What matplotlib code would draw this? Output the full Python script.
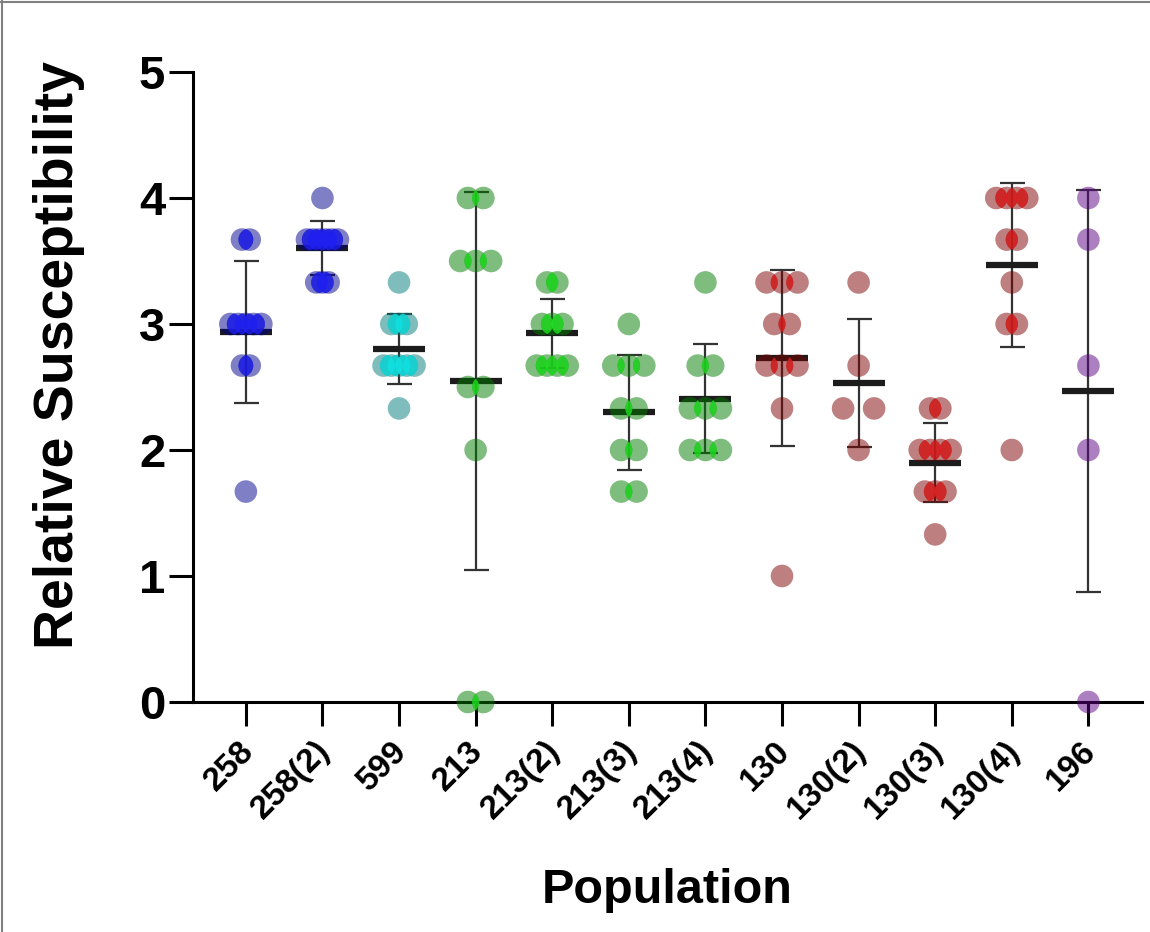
import numpy as np
import matplotlib
matplotlib.use("Agg")
import matplotlib.pyplot as plt
from matplotlib.patches import Circle
from matplotlib.transforms import ScaledTranslation
from matplotlib.lines import Line2D

plt.rcParams['font.family'] = ['Liberation Sans', 'DejaVu Sans']
plt.rcParams['font.weight'] = 'bold'

populations = ["258", "258(2)", "599", "213", "213(2)", "213(3)", "213(4)",
               "130", "130(2)", "130(3)", "130(4)", "196"]

p258 = [3.67, 3.67, 3, 3, 3, 3, 3, 2.67, 2.67, 1.67]
p258_2 = [4, 3.67, 3.67, 3.67, 3.67, 3.67, 3.67, 3.33, 3.33, 3.33]
p599 = [3.33, 3, 3, 3, 2.67, 2.67, 2.67, 2.67, 2.67, 2.33]
p213 = [4, 4, 3.5, 3.5, 3.5, 2.5, 2.5, 2, 0, 0]
p213_2 = [3.33, 3.33, 3, 3, 3, 2.67, 2.67, 2.67, 2.67]
p213_3 = [3, 2.67, 2.67, 2.67, 2.33, 2.33, 2, 2, 1.67, 1.67]
p213_4 = [3.33, 2.67, 2.67, 2.33, 2.33, 2.33, 2, 2, 2]
p130 = [3.33, 3.33, 3.33, 3, 3, 2.67, 2.67, 2.67, 2.33, 1]
p130_2 = [3.33, 2.67, 2.33, 2.33, 2]
p130_3 = [2.33, 2.33, 2, 2, 2, 2, 1.67, 1.67, 1.67, 1.33]
p130_4 = [4, 4, 4, 4, 3.67, 3.67, 3.33, 3, 3, 2]
p196 = [4, 3.67, 2.67, 2, 0]

groups = [p258, p258_2, p599, p213, p213_2, p213_3, p213_4,
          p130, p130_2, p130_3, p130_4, p196]

# (single dot colour, overlap colour)
blue = ('#00008c', '#2020f0')
cyan = ('#007d7d', '#10e0e0')
green = ('#007d00', '#20e020')
red = ('#7d0000', '#e02020')
purple = ('#5a0082', '#6a0090')
group_colors = [blue, blue, cyan, green, green, green, green,
                red, red, red, red, purple]

W, H, DPI = 1150, 932, 100
fig = plt.figure(figsize=(W / DPI, H / DPI), dpi=DPI)
ax = fig.add_axes([193 / W, 1 - 702 / H, (1142 - 193) / W, 630 / H])
ax.set_xlim(-0.69, 11.70)
ax.set_ylim(0, 5)

xs = np.arange(len(groups))
means = np.array([np.mean(g) for g in groups])
sds = np.array([np.std(g, ddof=1) for g in groups])

ax.errorbar(xs, means, yerr=sds, fmt='none', ecolor='#333333',
            elinewidth=1.6, capsize=9, capthick=1.6, zorder=2)
ax.hlines(means, xs - 0.34, xs + 0.34, colors='#1c1c1c', linewidth=4.5, zorder=2.2)

r_in = 0.113
px_y = 630 / 5.0
for i, g in enumerate(groups):
    vals = np.array(g)
    uniq, counts = np.unique(vals, return_counts=True)
    maxk = counts.max()
    step = 31.0 / (maxk - 1) if maxk > 1 else 0
    pts = []
    for u, k in zip(uniq, counts):
        for j in range(k):
            pts.append((u, (j - (k - 1) / 2) * step))
    muted, vivid = group_colors[i]
    circles = []
    for v, off in pts:
        tr = fig.dpi_scale_trans + ScaledTranslation(xs[i], v, ax.transData)
        c = Circle((off / DPI, 0), r_in, transform=tr, facecolor=muted,
                   edgecolor='none', alpha=0.5, zorder=3, clip_on=False)
        ax.add_patch(c)
        circles.append((v, off, tr))
    # overlapping parts of neighbouring dots come out brighter
    for a in range(len(circles)):
        for b in range(a + 1, len(circles)):
            va, oa, ta = circles[a]
            vb, ob, tb = circles[b]
            d = np.hypot(oa - ob, (va - vb) * px_y)
            if d < 2 * r_in * DPI:
                clip = Circle((oa / DPI, 0), r_in, transform=ta)
                lens = Circle((ob / DPI, 0), r_in, transform=tb, facecolor=vivid,
                              edgecolor='none', alpha=0.75, zorder=3.5)
                lens.set_clip_path(clip)
                ax.add_patch(lens)

for s in ['top', 'right']:
    ax.spines[s].set_visible(False)
for s in ['left', 'bottom']:
    ax.spines[s].set_linewidth(2.2)
    ax.spines[s].set_color('black')

ax.set_yticks(range(6))
ax.tick_params(axis='y', length=17, width=2.2, pad=3, labelsize=34)
ax.set_xticks(xs)
ax.set_xticklabels(populations, rotation=45, ha='right', fontsize=24, fontweight='bold')
ax.tick_params(axis='x', length=17, width=2.2, pad=7)
for lab in ax.get_xticklabels():
    lab.set_transform(lab.get_transform() + ScaledTranslation(0.14, 0, fig.dpi_scale_trans))

ax.set_ylabel("Relative Susceptibility", fontsize=40, fontweight='bold')
ax.yaxis.set_label_coords(-0.114, 0.551)
ax.set_xlabel("Population", fontsize=35, fontweight='bold')
ax.xaxis.set_label_coords(0.5, -0.263)

fig.add_artist(Line2D([0, 1], [1 - 2 / H, 1 - 2 / H], transform=fig.transFigure,
                      color='#808080', linewidth=1.5))
fig.add_artist(Line2D([2 / W, 2 / W], [0, 1], transform=fig.transFigure,
                      color='#808080', linewidth=1.5))

fig.savefig("out.png", dpi=DPI)
